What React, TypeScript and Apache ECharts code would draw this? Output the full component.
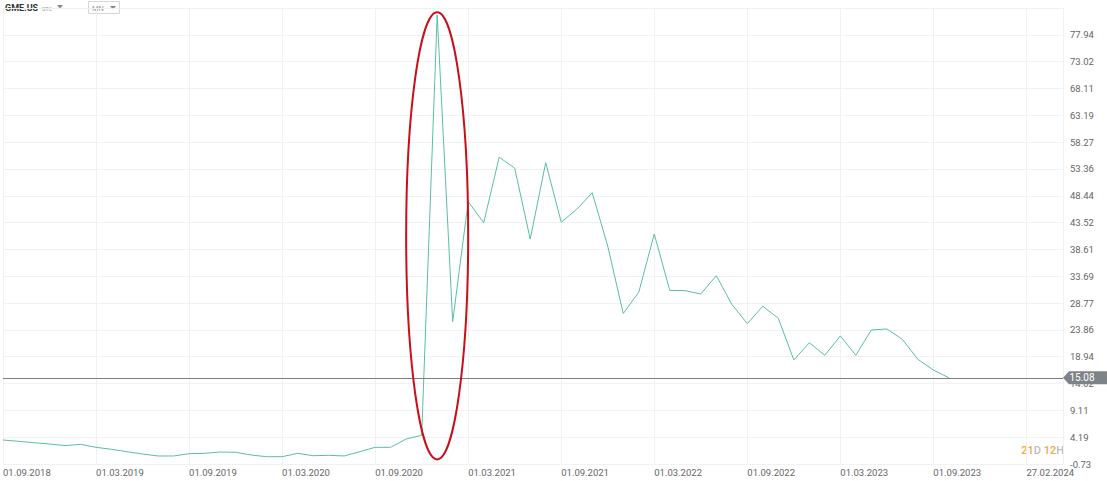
import React, { useEffect, useRef } from "react";
import * as echarts from "echarts";

// Monthly closes of GME.US, first point = September 2018 (index = months since 09.2018)
const CLOSES: number[] = [
  3.67, 3.43, 3.17, 2.94, 2.63, 2.88, 2.33, 1.96, 1.52, 1.10,
  0.74, 0.74, 1.16, 1.23, 1.47, 1.41, 0.92, 0.61, 0.61, 1.23,
  0.79, 0.86, 0.74, 1.52, 2.33, 2.33, 3.85, 4.53, 81.58, 25.36,
  47.36, 43.5, 55.5, 53.5, 40.5, 54.5, 43.6, 45.96, 49.0, 39.2,
  26.86, 30.75, 41.43, 31.1, 31.04, 30.43, 33.79, 28.55, 25.0, 28.18,
  25.98, 18.34, 21.5, 19.2, 22.74, 19.2, 23.83, 24.02, 22.13, 18.46,
  16.5, 15.08,
];

const X_TICK_LABELS: string[] = [
  "01.09.2018", "01.03.2019", "01.09.2019", "01.03.2020", "01.09.2020", "01.03.2021",
  "01.09.2021", "01.03.2022", "01.09.2022", "01.03.2023", "01.09.2023", "27.02.2024",
];

const Y_TICK_LABELS: string[] = [
  "-0.73", "4.19", "9.11", "14.02", "18.94", "23.86", "28.77", "33.69", "38.61",
  "43.52", "48.44", "53.36", "58.27", "63.19", "68.11", "73.02", "77.94",
];

const LAST_PRICE = 15.08;
const SPIKE_INDEX = 28;
const X_STEP = 6;
const X_MAX = 68.36;
const Y_MIN = -0.73;
const Y_STEP = (77.94 - Y_MIN) / 16;
const Y_MAX = Y_MIN + 17 * Y_STEP;

const FONT = "Roboto, 'Noto Sans', sans-serif";

export default function App() {
  const ref = useRef<HTMLDivElement>(null);

  useEffect(() => {
    if (!ref.current) return;
    const chart = echarts.init(ref.current, undefined, { renderer: "svg" });
    chart.setOption({
      animation: false,
      backgroundColor: "#ffffff",
      textStyle: { fontFamily: FONT },
      grid: { left: 0, right: 44, top: 8, bottom: 17, containLabel: false },
      xAxis: {
        type: "value",
        min: 0,
        max: X_MAX,
        interval: X_STEP,
        axisLine: { show: false },
        axisTick: { show: false },
        splitLine: { show: true, lineStyle: { color: "#f0f1f2", width: 1 } },
        axisLabel: {
          show: true,
          showMaxLabel: false,
          align: "left",
          margin: 3,
          color: "#666",
          fontSize: 9.5,
          fontFamily: FONT,
          formatter: (v: number) => {
            const k = Math.round(v / X_STEP);
            return Math.abs(v - k * X_STEP) < 1e-6 && k < X_TICK_LABELS.length ? X_TICK_LABELS[k] : "";
          },
        },
      },
      yAxis: {
        type: "value",
        position: "right",
        min: Y_MIN,
        max: Y_MAX,
        interval: Y_STEP,
        axisLine: { show: false },
        axisTick: { show: false },
        splitLine: { show: true, lineStyle: { color: "#f0f1f2", width: 1 } },
        axisLabel: {
          show: true,
          showMaxLabel: false,
          margin: 7,
          color: "#666",
          fontSize: 9.5,
          fontFamily: FONT,
          formatter: (v: number) => {
            const k = Math.round((v - Y_MIN) / Y_STEP);
            return Y_TICK_LABELS[k] ?? "";
          },
        },
      },
      series: [
        {
          type: "line",
          data: CLOSES.map((v, i) => [i, v]),
          showSymbol: false,
          symbol: "none",
          clip: false,
          lineStyle: { color: "#5bbf9f", width: 1 },
          markLine: {
            silent: true,
            symbol: ["none", "none"],
            label: { show: false },
            lineStyle: { color: "#7b7f82", width: 1, type: "solid" },
            data: [{ yAxis: LAST_PRICE }],
          },
          markPoint: {
            silent: true,
            data: [
              {
                coord: [X_MAX, LAST_PRICE],
                symbol: "path://M0,6.5 L6,0 L44,0 L44,13 L6,13 Z",
                symbolSize: [44, 13],
                symbolKeepAspect: false,
                symbolOffset: [22, 0],
                itemStyle: { color: "#7e8387" },
                label: {
                  show: true,
                  position: "inside",
                  offset: [-3, 0],
                  formatter: LAST_PRICE.toFixed(2),
                  color: "#ffffff",
                  fontSize: 10,
                  fontFamily: FONT,
                },
              },
            ],
          },
        },
      ],
      graphic: [
        {
          type: "text",
          left: 5,
          top: 3,
          style: { text: "GME.US", fill: "#333", font: `bold 9px ${FONT}` },
        },
        {
          type: "text",
          left: 42,
          top: 6,
          style: { text: "STC", fill: "#999", font: `5.5px ${FONT}` },
        },
        {
          type: "polygon",
          shape: { points: [[57, 5], [63, 5], [60, 8.5]] },
          style: { fill: "#888" },
        },
        {
          type: "rect",
          shape: { x: 88.5, y: 1.5, width: 31, height: 12 },
          style: { fill: "#fff", stroke: "#d6d6d6", lineWidth: 1 },
        },
        {
          type: "text",
          left: 92,
          top: 4,
          style: { text: "MN", fill: "#999", font: `7.5px ${FONT}` },
        },
        {
          type: "polygon",
          shape: { points: [[110, 6], [116, 6], [113, 9.5]] },
          style: { fill: "#888" },
        },
        {
          type: "text",
          right: 43,
          top: 445,
          style: {
            text: "{n|21}{u|D} {n|12}{u|H}",
            font: `11px ${FONT}`,
            rich: {
              n: { fill: "#efa845", fontSize: 11, fontFamily: FONT, fontWeight: 500 },
              u: { fill: "#b9bcbf", fontSize: 11, fontFamily: FONT, fontWeight: 500 },
            },
          },
        },
      ],
    });

    // Red ellipse annotation around the January 2021 spike, anchored to data coordinates
    const center = chart.convertToPixel({ gridIndex: 0 }, [SPIKE_INDEX, 41.1]) as number[];
    const top = chart.convertToPixel({ gridIndex: 0 }, [SPIKE_INDEX, 82.1]) as number[];
    const left = chart.convertToPixel({ gridIndex: 0 }, [SPIKE_INDEX - 2, 41.1]) as number[];
    chart.setOption({
      graphic: [
        {
          id: "spike-ellipse",
          type: "ellipse",
          z: 100,
          shape: {
            cx: center[0],
            cy: center[1],
            rx: center[0] - left[0],
            ry: center[1] - top[1],
          },
          style: { fill: "none", stroke: "#c8101b", lineWidth: 2 },
        },
      ],
    });

    return () => chart.dispose();
  }, []);

  return (
    <div
      ref={ref}
      style={{ position: "fixed", left: 0, top: 0, width: 1107, height: 481, background: "#fff" }}
    />
  );
}
